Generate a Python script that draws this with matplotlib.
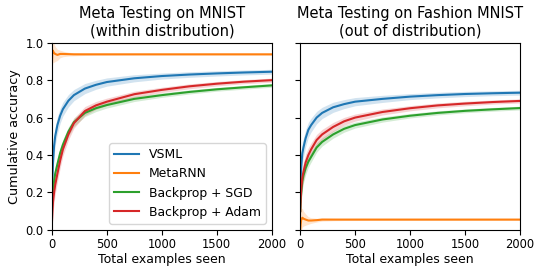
import matplotlib
matplotlib.use("Agg")
import matplotlib.pyplot as plt
import numpy as np

steps = [1, 5, 10, 20, 30, 50, 75, 100, 150, 200, 300, 400, 500, 750, 1000, 1250, 1500, 1750, 2000]

# Meta testing on MNIST (within distribution)
mnist_vsml = [0.15, 0.28, 0.36, 0.45, 0.50, 0.56, 0.61, 0.645, 0.69, 0.72, 0.755, 0.775, 0.79, 0.81, 0.822, 0.83, 0.836, 0.841, 0.845]
mnist_metarnn = [0.90, 0.96, 0.955, 0.945, 0.94, 0.935, 0.94, 0.94, 0.939, 0.938, 0.938, 0.938, 0.938, 0.938, 0.938, 0.938, 0.938, 0.938, 0.938]
mnist_sgd = [0.12, 0.17, 0.21, 0.26, 0.30, 0.35, 0.41, 0.455, 0.525, 0.575, 0.625, 0.65, 0.667, 0.70, 0.72, 0.737, 0.751, 0.762, 0.772]
mnist_adam = [0.05, 0.10, 0.15, 0.20, 0.24, 0.30, 0.37, 0.43, 0.51, 0.57, 0.635, 0.665, 0.685, 0.725, 0.748, 0.767, 0.781, 0.792, 0.80]

# Meta testing on Fashion MNIST (out of distribution)
fashion_vsml = [0.15, 0.28, 0.34, 0.41, 0.44, 0.49, 0.535, 0.56, 0.60, 0.625, 0.655, 0.672, 0.685, 0.70, 0.712, 0.72, 0.726, 0.73, 0.733]
fashion_metarnn = [0.0, 0.03, 0.055, 0.065, 0.06, 0.055, 0.05, 0.05, 0.052, 0.055, 0.055, 0.055, 0.055, 0.055, 0.055, 0.055, 0.055, 0.055, 0.055]
fashion_sgd = [0.10, 0.16, 0.20, 0.26, 0.29, 0.33, 0.365, 0.39, 0.44, 0.47, 0.51, 0.54, 0.56, 0.59, 0.61, 0.625, 0.636, 0.644, 0.651]
fashion_adam = [0.10, 0.17, 0.22, 0.28, 0.31, 0.36, 0.40, 0.43, 0.48, 0.51, 0.55, 0.58, 0.60, 0.63, 0.65, 0.665, 0.675, 0.683, 0.689]

# Standard deviations (shaded bands)
std_vsml = [0.10, 0.08, 0.07, 0.06, 0.05, 0.045, 0.04, 0.037, 0.033, 0.03, 0.027, 0.024, 0.022, 0.019, 0.016, 0.015, 0.014, 0.013, 0.013]
std_metarnn = [0.10, 0.08, 0.06, 0.05, 0.04, 0.03, 0.02, 0.015, 0.01, 0.008, 0.006, 0.005, 0.005, 0.004, 0.004, 0.004, 0.004, 0.004, 0.004]
std_sgd = [0.05, 0.05, 0.05, 0.045, 0.04, 0.035, 0.03, 0.028, 0.025, 0.022, 0.02, 0.018, 0.016, 0.014, 0.012, 0.011, 0.01, 0.01, 0.01]
std_adam = [0.08, 0.07, 0.06, 0.055, 0.05, 0.045, 0.04, 0.035, 0.03, 0.027, 0.024, 0.021, 0.019, 0.016, 0.014, 0.013, 0.012, 0.011, 0.011]

labels = ["VSML", "MetaRNN", "Backprop + SGD", "Backprop + Adam"]
colors = ["#1f77b4", "#ff7f0e", "#2ca02c", "#d62728"]
stds = [std_vsml, std_metarnn, std_sgd, std_adam]

fig = plt.figure(figsize=(5.35, 2.67), dpi=100)
ax1 = fig.add_axes([0.097, 0.139, 0.411, 0.701])
ax2 = fig.add_axes([0.561, 0.139, 0.411, 0.701], sharey=ax1)

x = np.array(steps)
panels = [
    (ax1, [mnist_vsml, mnist_metarnn, mnist_sgd, mnist_adam], "Meta Testing on MNIST\n(within distribution)"),
    (ax2, [fashion_vsml, fashion_metarnn, fashion_sgd, fashion_adam], "Meta Testing on Fashion MNIST\n(out of distribution)"),
]
for ax, series, title in panels:
    for s, sd, lab, c in zip(series, stds, labels, colors):
        s = np.array(s); sd = np.array(sd)
        ax.fill_between(x, s - sd, s + sd, color=c, alpha=0.2, linewidth=0)
        ax.plot(x, s, color=c, label=lab, linewidth=1.5)
    ax.set_xlim(0, 2000)
    ax.set_ylim(0, 1.0)
    ax.set_xticks([0, 500, 1000, 1500, 2000])
    ax.set_title(title, fontsize=10.5, pad=5)
    ax.set_xlabel("Total examples seen", fontsize=9, labelpad=1.5)
    ax.tick_params(labelsize=8.3, pad=2.5)

ax1.set_ylabel("Cumulative accuracy", fontsize=9.2, labelpad=3)
ax1.set_yticks([0.0, 0.2, 0.4, 0.6, 0.8, 1.0])
plt.setp(ax2.get_yticklabels(), visible=False)
ax1.legend(loc="lower right", fontsize=8.9)

fig.savefig("out.png", dpi=100)
